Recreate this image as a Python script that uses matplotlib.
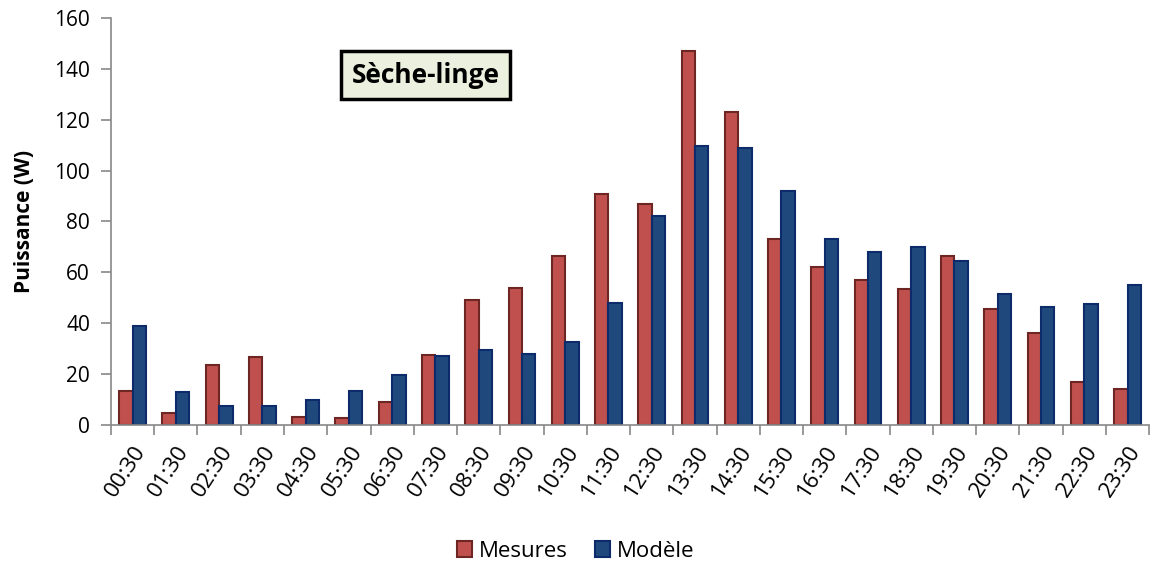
import numpy as np
import matplotlib.pyplot as plt

plt.rcParams['font.family'] = ['Open Sans', 'DejaVu Sans']

heures = ['00:30', '01:30', '02:30', '03:30', '04:30', '05:30', '06:30', '07:30',
          '08:30', '09:30', '10:30', '11:30', '12:30', '13:30', '14:30', '15:30',
          '16:30', '17:30', '18:30', '19:30', '20:30', '21:30', '22:30', '23:30']
mesures = [13.5, 4.5, 23.5, 26.8, 3.2, 2.8, 9, 27.5, 49, 54, 66.5, 91,
           87, 147, 123, 73, 62, 57, 53.5, 66.5, 45.5, 36, 17, 14]
modele = [39, 13, 7.5, 7.5, 9.8, 13.5, 19.5, 27, 29.5, 28, 32.5, 48,
          82, 109.5, 109, 92, 73, 68, 70, 64.5, 51.5, 46.5, 47.5, 55]

fig = plt.figure(figsize=(11.51, 5.65), dpi=100)
ax = fig.add_axes([0.0964, 0.248, 0.902, 0.72])

x = np.arange(len(heures))
w = 0.31
ax.bar(x - w / 2, mesures, w, color='#C0504D', edgecolor='#6E2624', linewidth=1.5, label='Mesures')
ax.bar(x + w / 2, modele, w, color='#1F497D', edgecolor='#0D2A6B', linewidth=1.5, label='Modèle')

ax.set_xlim(-0.5, len(heures) - 0.5)
ax.set_ylim(0, 160)
ax.set_yticks(range(0, 161, 20))
ax.set_xticks(x)
ax.set_xticklabels(heures, rotation=57, ha='right', rotation_mode='anchor', fontsize=16)
ax.set_xticks(np.arange(-0.5, len(heures), 1), minor=True)
ax.tick_params(axis='x', which='major', length=0, pad=12)
ax.tick_params(axis='x', which='minor', length=7, color='#888888', width=1.2)
ax.tick_params(axis='y', length=7, color='#888888', width=1.2, labelsize=15, pad=8)

for s in ['top', 'right']:
    ax.spines[s].set_visible(False)
for s in ['left', 'bottom']:
    ax.spines[s].set_color('#888888')
    ax.spines[s].set_linewidth(1.2)

ax.set_ylabel('Puissance (W)', fontsize=15, fontweight='bold', labelpad=14)

ax.text(0.303, 0.86, 'Sèche-linge', transform=ax.transAxes, ha='center', va='center',
        fontsize=19, fontweight='bold',
        bbox=dict(boxstyle='square,pad=0.4', facecolor='#EBF1DE', edgecolor='black', linewidth=2.5))

fig.legend(loc='lower center', bbox_to_anchor=(0.5, -0.03), ncol=2, frameon=False, fontsize=16,
           handlelength=0.7, handleheight=0.7, handletextpad=0.3, columnspacing=1.2)

fig.savefig('out.png', dpi=100)
